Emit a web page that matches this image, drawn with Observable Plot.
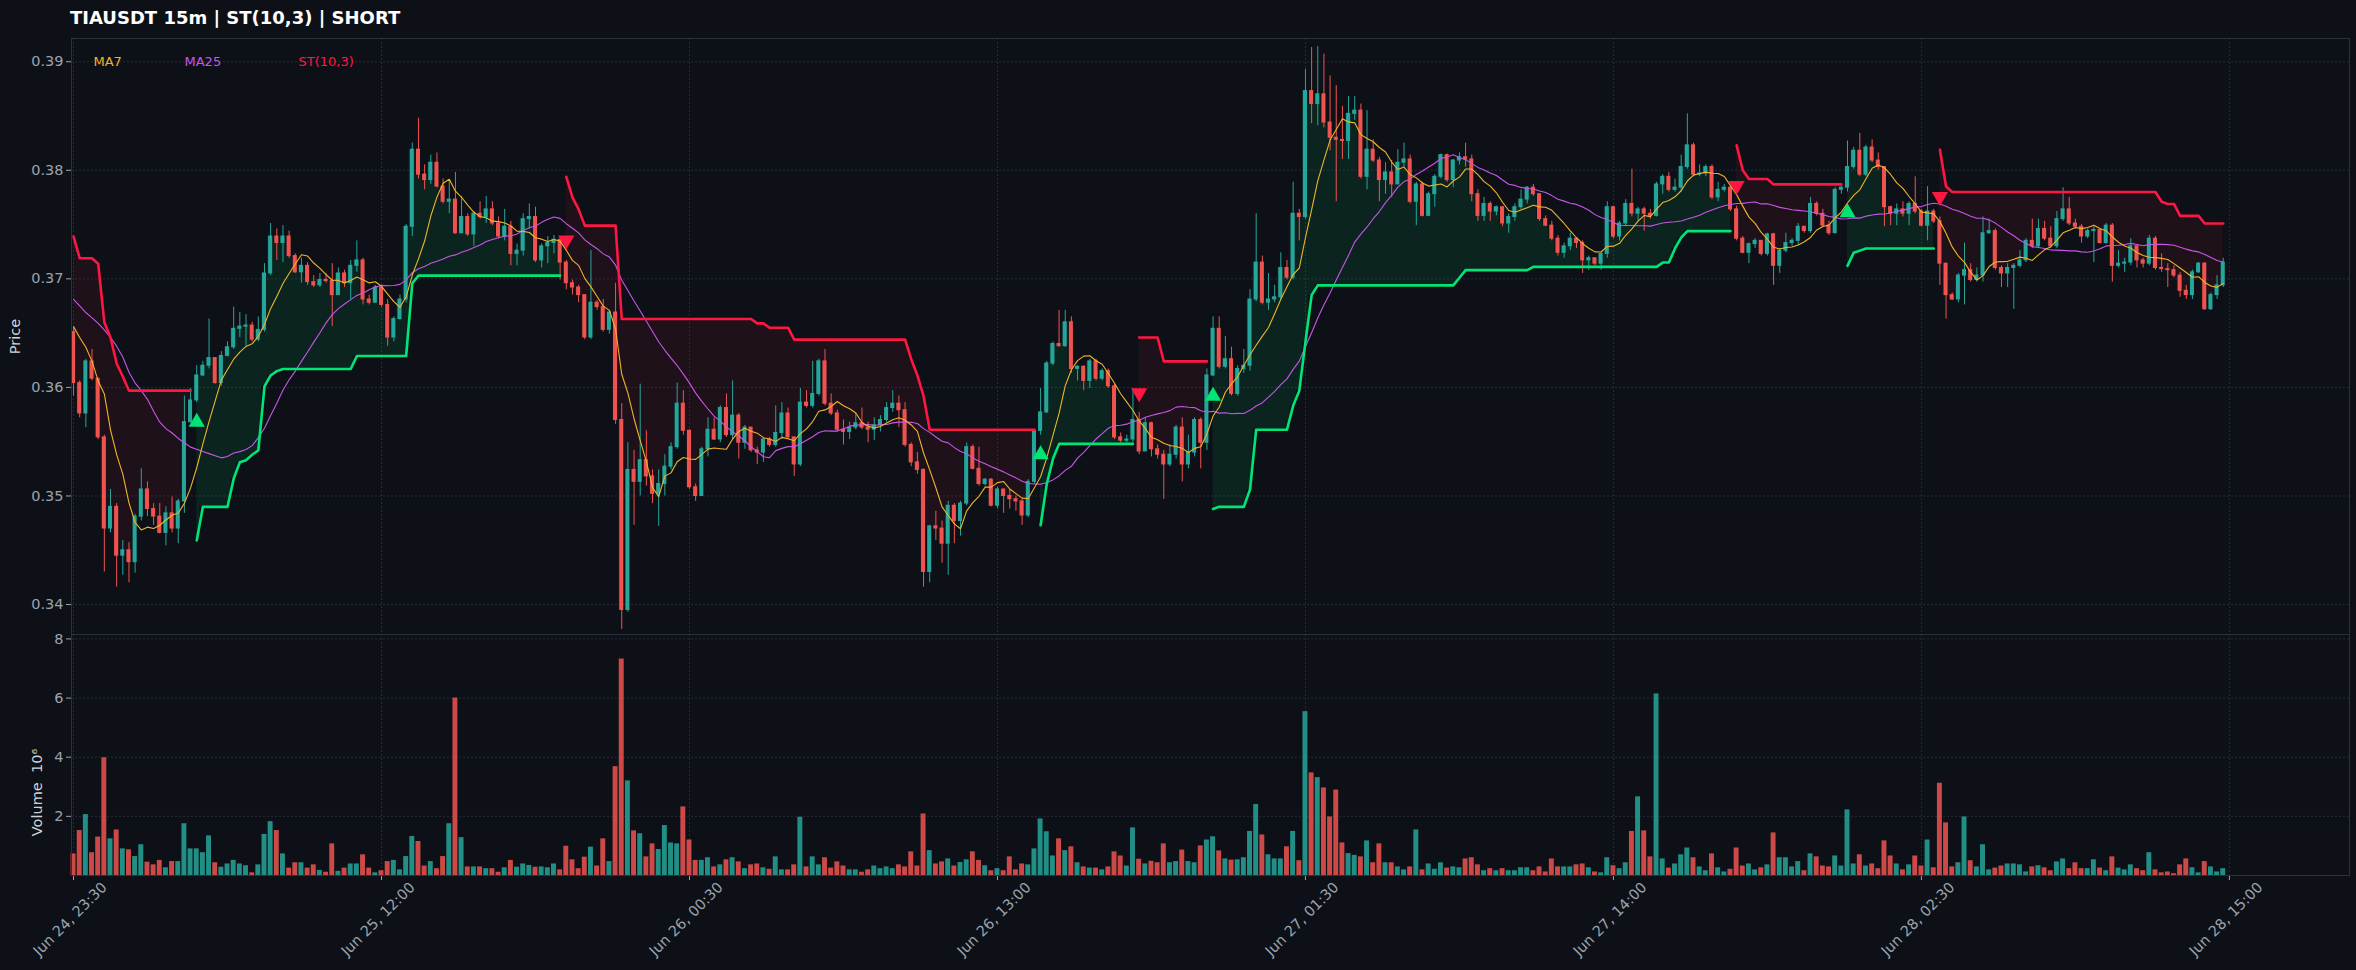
<!DOCTYPE html>
<html><head><meta charset="utf-8">
<script src="https://cdn.jsdelivr.net/npm/d3@7"></script>
<script src="https://cdn.jsdelivr.net/npm/@observablehq/plot@0.6"></script>
<style>
html,body{margin:0;padding:0;background:#0d1117;overflow:hidden;}
#wrap{width:2356px;height:970px;position:relative;font-family:"DejaVu Sans",sans-serif;background:#0d1117;}
#title{position:absolute;left:70px;top:6px;color:#ffffff;font-weight:bold;font-size:18px;line-height:24px;white-space:pre;}
#price{position:absolute;left:0;top:38px;}
#vol{position:absolute;left:0;top:634px;}
svg{display:block;}
</style></head>
<body>
<div id="wrap">
  <div id="title">TIAUSDT 15m | ST(10,3) | SHORT</div>
  <div id="price"></div>
  <div id="vol"></div>
</div>
<script>
// ---------------- data (15m candles, index 0 = Jun 24 23:30) ----------------
const open = [
0.3651,0.3604,0.3576,0.3624,0.3608,0.3554,0.3470,0.3490,0.3445,0.3450,
0.3439,0.3481,0.3506,0.3488,0.3481,0.3466,0.3484,0.3470,0.3495,0.3568,
0.3588,0.3611,0.3620,0.3627,0.3604,0.3629,0.3637,0.3654,0.3656,0.3657,
0.3644,0.3653,0.3705,0.3739,0.3733,0.3739,0.3721,0.3706,0.3712,0.3697,
0.3694,0.3699,0.3698,0.3685,0.3705,0.3696,0.3712,0.3717,0.3681,0.3678,
0.3692,0.3676,0.3646,0.3663,0.3681,0.3748,0.3819,0.3796,0.3791,0.3807,
0.3785,0.3771,0.3773,0.3742,0.3757,0.3741,0.3760,0.3757,0.3764,0.3751,
0.3739,0.3748,0.3723,0.3726,0.3755,0.3757,0.3717,0.3730,0.3733,0.3736,
0.3715,0.3696,0.3692,0.3685,0.3646,0.3678,0.3674,0.3653,0.3669,0.3570,
0.3395,0.3524,0.3513,0.3533,0.3518,0.3502,0.3511,0.3527,0.3545,0.3585,
0.3560,0.3508,0.3500,0.3543,0.3561,0.3552,0.3581,0.3556,0.3574,0.3549,
0.3563,0.3542,0.3540,0.3552,0.3547,0.3558,0.3576,0.3554,0.3529,0.3586,
0.3583,0.3594,0.3624,0.3585,0.3576,0.3561,0.3559,0.3563,0.3567,0.3563,
0.3561,0.3565,0.3570,0.3581,0.3585,0.3579,0.3547,0.3531,0.3524,0.3430,
0.3472,0.3470,0.3456,0.3491,0.3477,0.3493,0.3545,0.3525,0.3511,0.3515,
0.3491,0.3506,0.3500,0.3497,0.3495,0.3482,0.3513,0.3560,0.3577,0.3622,
0.3640,0.3638,0.3660,0.3617,0.3619,0.3606,0.3624,0.3608,0.3615,0.3601,
0.3554,0.3551,0.3552,0.3570,0.3541,0.3567,0.3543,0.3538,0.3529,0.3538,
0.3563,0.3529,0.3540,0.3570,0.3549,0.3611,0.3654,0.3619,0.3626,0.3594,
0.3617,0.3620,0.3681,0.3715,0.3678,0.3681,0.3683,0.3710,0.3701,0.3760,
0.3757,0.3873,0.3861,0.3870,0.3844,0.3830,0.3828,0.3827,0.3852,0.3855,
0.3794,0.3819,0.3809,0.3791,0.3798,0.3787,0.3807,0.3810,0.3771,0.3787,
0.3758,0.3778,0.3794,0.3814,0.3791,0.3809,0.3812,0.3810,0.3778,0.3758,
0.3769,0.3762,0.3766,0.3751,0.3757,0.3766,0.3773,0.3784,0.3778,0.3755,
0.3749,0.3737,0.3724,0.3730,0.3737,0.3733,0.3717,0.3719,0.3714,0.3723,
0.3766,0.3739,0.3751,0.3769,0.3760,0.3764,0.3760,0.3758,0.3787,0.3794,
0.3782,0.3784,0.3803,0.3823,0.3796,0.3797,0.3803,0.3775,0.3782,0.3784,
0.3764,0.3737,0.3724,0.3732,0.3735,0.3723,0.3741,0.3712,0.3726,0.3733,
0.3735,0.3748,0.3744,0.3769,0.3760,0.3749,0.3742,0.3782,0.3784,0.3803,
0.3818,0.3796,0.3821,0.3809,0.3803,0.3766,0.3760,0.3764,0.3760,0.3769,
0.3762,0.3749,0.3762,0.3753,0.3714,0.3685,0.3681,0.3703,0.3708,0.3699,
0.3703,0.3742,0.3744,0.3710,0.3705,0.3710,0.3712,0.3717,0.3735,0.3730,
0.3746,0.3737,0.3730,0.3755,0.3764,0.3751,0.3748,0.3739,0.3744,0.3745,
0.3733,0.3749,0.3712,0.3714,0.3715,0.3730,0.3717,0.3714,0.3737,0.3710,
0.3709,0.3708,0.3703,0.3689,0.3685,0.3706,0.3714,0.3672,0.3685,0.3694];

const high = [
0.3655,0.3606,0.3626,0.3635,0.3608,0.3556,0.3506,0.3493,0.3459,0.3457,
0.3483,0.3525,0.3513,0.3493,0.3493,0.3490,0.3499,0.3497,0.3592,0.3599,
0.3620,0.3624,0.3663,0.3626,0.3633,0.3642,0.3674,0.3669,0.3667,0.3660,
0.3665,0.3714,0.3751,0.3746,0.3749,0.3744,0.3723,0.3719,0.3715,0.3703,
0.3705,0.3705,0.3714,0.3710,0.3708,0.3717,0.3735,0.3719,0.3685,0.3694,
0.3694,0.3681,0.3665,0.3685,0.3750,0.3825,0.3848,0.3805,0.3814,0.3816,
0.3792,0.3791,0.3798,0.3776,0.3760,0.3762,0.3771,0.3776,0.3771,0.3757,
0.3764,0.3753,0.3732,0.3760,0.3769,0.3766,0.3732,0.3739,0.3740,0.3738,
0.3717,0.3699,0.3694,0.3685,0.3726,0.3680,0.3681,0.3671,0.3696,0.3585,
0.3549,0.3542,0.3603,0.3560,0.3524,0.3524,0.3538,0.3549,0.3604,0.3597,
0.3561,0.3511,0.3545,0.3572,0.3572,0.3583,0.3594,0.3606,0.3576,0.3565,
0.3563,0.3545,0.3554,0.3554,0.3583,0.3586,0.3581,0.3554,0.3599,0.3597,
0.3624,0.3626,0.3635,0.3594,0.3579,0.3570,0.3568,0.3576,0.3581,0.3568,
0.3572,0.3574,0.3586,0.3597,0.3592,0.3586,0.3549,0.3540,0.3525,0.3473,
0.3486,0.3477,0.3495,0.3493,0.3495,0.3549,0.3547,0.3545,0.3516,0.3516,
0.3508,0.3506,0.3506,0.3500,0.3497,0.3515,0.3561,0.3599,0.3624,0.3642,
0.3671,0.3671,0.3665,0.3620,0.3620,0.3626,0.3626,0.3617,0.3617,0.3603,
0.3558,0.3556,0.3599,0.3577,0.3572,0.3568,0.3547,0.3542,0.3547,0.3565,
0.3572,0.3556,0.3572,0.3572,0.3617,0.3665,0.3665,0.3647,0.3637,0.3620,
0.3635,0.3690,0.3760,0.3721,0.3705,0.3694,0.3724,0.3717,0.3789,0.3764,
0.3893,0.3913,0.3914,0.3907,0.3887,0.3878,0.3859,0.3868,0.3868,0.3861,
0.3855,0.3828,0.3812,0.3807,0.3809,0.3819,0.3825,0.3814,0.3789,0.3789,
0.3780,0.3796,0.3815,0.3815,0.3810,0.3816,0.3825,0.3814,0.3782,0.3775,
0.3771,0.3767,0.3764,0.3760,0.3769,0.3782,0.3785,0.3787,0.3778,0.3758,
0.3753,0.3740,0.3733,0.3742,0.3737,0.3735,0.3721,0.3719,0.3724,0.3771,
0.3767,0.3753,0.3773,0.3801,0.3766,0.3766,0.3764,0.3789,0.3796,0.3798,
0.3792,0.3814,0.3852,0.3825,0.3805,0.3805,0.3805,0.3789,0.3787,0.3785,
0.3767,0.3739,0.3733,0.3737,0.3735,0.3742,0.3742,0.3728,0.3742,0.3737,
0.3751,0.3748,0.3775,0.3771,0.3764,0.3753,0.3784,0.3785,0.3827,0.3821,
0.3834,0.3823,0.3828,0.3816,0.3803,0.3767,0.3769,0.3771,0.3771,0.3794,
0.3764,0.3785,0.3764,0.3757,0.3710,0.3687,0.3705,0.3733,0.3714,0.3710,
0.3757,0.3755,0.3746,0.3712,0.3714,0.3714,0.3726,0.3737,0.3755,0.3755,
0.3753,0.3748,0.3762,0.3784,0.3775,0.3755,0.3750,0.3746,0.3748,0.3744,
0.3751,0.3751,0.3726,0.3719,0.3737,0.3730,0.3719,0.3740,0.3739,0.3723,
0.3714,0.3712,0.3706,0.3694,0.3708,0.3715,0.3715,0.3687,0.3703,0.3719];

const low = [
0.3592,0.3572,0.3563,0.3606,0.3552,0.3430,0.3466,0.3416,0.3427,0.3420,
0.3429,0.3477,0.3481,0.3473,0.3465,0.3454,0.3466,0.3456,0.3484,0.3567,
0.3586,0.3610,0.3617,0.3603,0.3601,0.3628,0.3635,0.3646,0.3638,0.3642,
0.3642,0.3651,0.3703,0.3717,0.3715,0.3719,0.3705,0.3696,0.3694,0.3692,
0.3692,0.3696,0.3656,0.3685,0.3692,0.3681,0.3706,0.3676,0.3676,0.3678,
0.3674,0.3638,0.3642,0.3662,0.3678,0.3739,0.3792,0.3782,0.3787,0.3784,
0.3769,0.3760,0.3741,0.3744,0.3739,0.3730,0.3755,0.3751,0.3749,0.3737,
0.3735,0.3712,0.3712,0.3721,0.3746,0.3715,0.3710,0.3714,0.3723,0.3699,
0.3690,0.3685,0.3678,0.3644,0.3644,0.3671,0.3651,0.3649,0.3566,0.3377,
0.3393,0.3473,0.3500,0.3509,0.3493,0.3472,0.3500,0.3524,0.3543,0.3556,
0.3506,0.3495,0.3500,0.3536,0.3551,0.3549,0.3554,0.3552,0.3534,0.3543,
0.3540,0.3529,0.3531,0.3545,0.3545,0.3552,0.3552,0.3518,0.3527,0.3581,
0.3581,0.3592,0.3583,0.3574,0.3559,0.3547,0.3552,0.3561,0.3561,0.3549,
0.3551,0.3559,0.3568,0.3577,0.3563,0.3545,0.3527,0.3520,0.3416,0.3420,
0.3459,0.3438,0.3427,0.3456,0.3463,0.3491,0.3524,0.3509,0.3509,0.3490,
0.3488,0.3484,0.3488,0.3486,0.3473,0.3480,0.3511,0.3556,0.3576,0.3620,
0.3637,0.3637,0.3613,0.3606,0.3597,0.3599,0.3606,0.3606,0.3599,0.3552,
0.3549,0.3549,0.3549,0.3538,0.3541,0.3536,0.3534,0.3497,0.3527,0.3534,
0.3513,0.3525,0.3536,0.3525,0.3542,0.3610,0.3617,0.3617,0.3592,0.3592,
0.3613,0.3615,0.3679,0.3676,0.3671,0.3678,0.3681,0.3699,0.3699,0.3735,
0.3755,0.3843,0.3841,0.3839,0.3818,0.3771,0.3810,0.3810,0.3846,0.3792,
0.3782,0.3807,0.3771,0.3778,0.3775,0.3787,0.3803,0.3769,0.3749,0.3757,
0.3758,0.3766,0.3792,0.3789,0.3784,0.3805,0.3803,0.3771,0.3753,0.3753,
0.3753,0.3758,0.3748,0.3742,0.3753,0.3764,0.3769,0.3776,0.3753,0.3748,
0.3735,0.3721,0.3719,0.3726,0.3728,0.3705,0.3708,0.3712,0.3708,0.3719,
0.3737,0.3735,0.3748,0.3757,0.3753,0.3744,0.3755,0.3757,0.3778,0.3780,
0.3780,0.3780,0.3801,0.3794,0.3794,0.3794,0.3773,0.3771,0.3780,0.3762,
0.3735,0.3723,0.3714,0.3728,0.3721,0.3721,0.3694,0.3705,0.3724,0.3730,
0.3731,0.3742,0.3742,0.3758,0.3748,0.3740,0.3742,0.3778,0.3780,0.3801,
0.3794,0.3794,0.3807,0.3800,0.3748,0.3749,0.3749,0.3757,0.3749,0.3760,
0.3748,0.3735,0.3751,0.3694,0.3663,0.3680,0.3678,0.3676,0.3697,0.3697,
0.3697,0.3741,0.3708,0.3692,0.3692,0.3672,0.3710,0.3715,0.3728,0.3728,
0.3735,0.3728,0.3728,0.3753,0.3749,0.3746,0.3733,0.3737,0.3715,0.3732,
0.3732,0.3697,0.3710,0.3706,0.3712,0.3710,0.3710,0.3712,0.3708,0.3706,
0.3692,0.3701,0.3683,0.3681,0.3681,0.3705,0.3671,0.3671,0.3681,0.3692];

const close = [
0.3604,0.3576,0.3624,0.3608,0.3554,0.3470,0.3490,0.3445,0.3450,0.3439,
0.3481,0.3506,0.3488,0.3481,0.3466,0.3484,0.3470,0.3495,0.3568,0.3588,
0.3611,0.3620,0.3627,0.3604,0.3629,0.3637,0.3654,0.3656,0.3657,0.3644,
0.3653,0.3705,0.3739,0.3733,0.3739,0.3721,0.3706,0.3712,0.3697,0.3694,
0.3699,0.3698,0.3685,0.3705,0.3696,0.3712,0.3717,0.3681,0.3678,0.3692,
0.3676,0.3646,0.3663,0.3681,0.3748,0.3819,0.3796,0.3791,0.3807,0.3785,
0.3771,0.3773,0.3742,0.3757,0.3741,0.3760,0.3757,0.3764,0.3751,0.3739,
0.3748,0.3723,0.3726,0.3755,0.3757,0.3717,0.3730,0.3733,0.3736,0.3715,
0.3696,0.3692,0.3685,0.3646,0.3678,0.3674,0.3653,0.3669,0.3570,0.3395,
0.3524,0.3513,0.3533,0.3518,0.3502,0.3511,0.3527,0.3545,0.3585,0.3560,
0.3508,0.3500,0.3543,0.3561,0.3552,0.3581,0.3556,0.3574,0.3549,0.3563,
0.3542,0.3540,0.3552,0.3547,0.3558,0.3576,0.3554,0.3529,0.3586,0.3583,
0.3594,0.3624,0.3585,0.3576,0.3561,0.3559,0.3563,0.3567,0.3563,0.3561,
0.3565,0.3570,0.3581,0.3585,0.3579,0.3547,0.3531,0.3524,0.3430,0.3472,
0.3470,0.3456,0.3491,0.3477,0.3493,0.3545,0.3525,0.3511,0.3515,0.3491,
0.3506,0.3500,0.3497,0.3495,0.3482,0.3513,0.3560,0.3577,0.3622,0.3640,
0.3638,0.3660,0.3617,0.3619,0.3606,0.3624,0.3608,0.3615,0.3601,0.3554,
0.3551,0.3552,0.3570,0.3541,0.3567,0.3543,0.3538,0.3529,0.3538,0.3563,
0.3529,0.3540,0.3570,0.3549,0.3611,0.3654,0.3619,0.3626,0.3594,0.3617,
0.3620,0.3681,0.3715,0.3678,0.3681,0.3683,0.3710,0.3701,0.3760,0.3757,
0.3873,0.3861,0.3870,0.3844,0.3830,0.3828,0.3827,0.3852,0.3855,0.3794,
0.3819,0.3809,0.3791,0.3798,0.3787,0.3807,0.3810,0.3771,0.3787,0.3758,
0.3778,0.3794,0.3814,0.3791,0.3809,0.3812,0.3810,0.3778,0.3758,0.3769,
0.3762,0.3766,0.3751,0.3757,0.3766,0.3773,0.3784,0.3778,0.3755,0.3749,
0.3737,0.3724,0.3730,0.3737,0.3733,0.3717,0.3719,0.3714,0.3723,0.3766,
0.3739,0.3751,0.3769,0.3760,0.3764,0.3760,0.3758,0.3787,0.3794,0.3782,
0.3784,0.3803,0.3823,0.3796,0.3797,0.3803,0.3775,0.3782,0.3784,0.3764,
0.3737,0.3724,0.3732,0.3735,0.3723,0.3741,0.3712,0.3726,0.3733,0.3735,
0.3748,0.3744,0.3769,0.3760,0.3749,0.3742,0.3782,0.3784,0.3803,0.3818,
0.3796,0.3821,0.3809,0.3803,0.3766,0.3760,0.3764,0.3760,0.3769,0.3762,
0.3749,0.3762,0.3753,0.3714,0.3685,0.3681,0.3703,0.3708,0.3699,0.3703,
0.3742,0.3744,0.3710,0.3705,0.3710,0.3712,0.3717,0.3735,0.3730,0.3746,
0.3737,0.3730,0.3755,0.3764,0.3751,0.3748,0.3739,0.3744,0.3745,0.3733,
0.3749,0.3712,0.3714,0.3715,0.3730,0.3717,0.3714,0.3737,0.3710,0.3709,
0.3708,0.3703,0.3689,0.3685,0.3706,0.3714,0.3672,0.3685,0.3694,0.3715];

// volume in millions
const volume = [
0.73,1.52,2.06,0.77,1.30,3.98,1.24,1.54,0.90,0.87,
0.64,1.04,0.45,0.36,0.51,0.26,0.47,0.47,1.75,0.90,
0.90,0.77,1.34,0.43,0.28,0.39,0.51,0.39,0.33,0.09,
0.36,1.39,1.82,1.52,0.73,0.25,0.43,0.43,0.25,0.36,
0.17,0.11,1.07,0.14,0.25,0.39,0.39,0.70,0.25,0.09,
0.16,0.47,0.51,0.19,0.64,1.32,1.15,0.32,0.47,0.23,
0.64,1.75,6.00,1.28,0.29,0.29,0.29,0.23,0.23,0.11,
0.26,0.51,0.28,0.39,0.34,0.28,0.29,0.26,0.39,0.19,
0.99,0.53,0.23,0.62,0.96,0.32,1.24,0.47,3.68,7.32,
3.20,1.51,1.41,0.63,1.07,0.88,1.69,1.10,1.07,2.32,
1.20,0.51,0.51,0.60,0.29,0.36,0.53,0.60,0.46,0.23,
0.36,0.39,0.26,0.21,0.63,0.19,0.19,0.36,1.97,0.29,
0.63,0.36,0.60,0.25,0.46,0.32,0.19,0.19,0.11,0.19,
0.32,0.23,0.29,0.23,0.36,0.29,0.80,0.32,2.08,0.84,
0.39,0.46,0.56,0.32,0.44,0.53,0.80,0.51,0.33,0.16,
0.23,0.16,0.63,0.19,0.39,0.36,0.90,1.91,1.48,0.66,
1.24,0.84,0.97,0.43,0.29,0.25,0.25,0.19,0.29,0.80,
0.66,0.32,1.61,0.55,0.39,0.48,0.43,1.07,0.43,0.47,
0.86,0.47,0.43,1.00,1.20,1.31,0.83,0.56,0.52,0.53,
0.60,1.49,2.40,1.37,0.70,0.56,0.56,0.97,1.49,0.50,
5.54,3.47,3.31,2.96,1.98,2.89,1.10,0.74,0.68,0.63,
1.17,0.43,1.07,0.43,0.43,0.29,0.19,0.29,1.54,0.19,
0.39,0.21,0.43,0.25,0.29,0.26,0.56,0.60,0.36,0.16,
0.23,0.16,0.23,0.16,0.16,0.26,0.26,0.16,0.29,0.12,
0.56,0.29,0.29,0.29,0.36,0.39,0.26,0.12,0.09,0.60,
0.33,0.23,0.43,1.49,2.66,1.51,0.63,6.14,0.56,0.25,
0.39,0.70,0.93,0.60,0.29,0.16,0.73,0.26,0.12,0.21,
0.93,0.32,0.39,0.19,0.26,0.36,1.44,0.60,0.60,0.29,
0.47,0.16,0.73,0.63,0.32,0.29,0.66,0.32,2.22,0.39,
0.70,0.32,0.39,0.23,1.17,0.66,0.39,0.19,0.36,0.66,
0.32,1.20,0.26,3.12,1.78,0.29,0.43,1.98,0.50,0.29,
1.04,0.19,0.25,0.32,0.39,0.39,0.36,0.12,0.29,0.33,
0.26,0.16,0.46,0.56,0.23,0.43,0.23,0.23,0.53,0.25,
0.16,0.63,0.25,0.19,0.36,0.23,0.16,0.77,0.19,0.09,
0.12,0.06,0.36,0.56,0.26,0.09,0.47,0.29,0.12,0.23];

// SuperTrend(10,3) level per candle
const stLevel = [
0.3739,0.3719,0.3719,0.3719,0.3714,0.3660,0.3646,0.3622,0.3610,0.3597,
0.3597,0.3597,0.3597,0.3597,0.3597,0.3597,0.3597,0.3597,0.3597,0.3597,
0.3459,0.3490,0.3490,0.3490,0.3490,0.3490,0.3516,0.3531,0.3533,0.3538,
0.3542,0.3601,0.3611,0.3615,0.3617,0.3617,0.3617,0.3617,0.3617,0.3617,
0.3617,0.3617,0.3617,0.3617,0.3617,0.3617,0.3629,0.3629,0.3629,0.3629,
0.3629,0.3629,0.3629,0.3629,0.3629,0.3696,0.3703,0.3703,0.3703,0.3703,
0.3703,0.3703,0.3703,0.3703,0.3703,0.3703,0.3703,0.3703,0.3703,0.3703,
0.3703,0.3703,0.3703,0.3703,0.3703,0.3703,0.3703,0.3703,0.3703,0.3703,
0.3794,0.3775,0.3764,0.3749,0.3749,0.3749,0.3749,0.3749,0.3749,0.3663,
0.3663,0.3663,0.3663,0.3663,0.3663,0.3663,0.3663,0.3663,0.3663,0.3663,
0.3663,0.3663,0.3663,0.3663,0.3663,0.3663,0.3663,0.3663,0.3663,0.3663,
0.3663,0.3659,0.3659,0.3655,0.3655,0.3655,0.3655,0.3644,0.3644,0.3644,
0.3644,0.3644,0.3644,0.3644,0.3644,0.3644,0.3644,0.3644,0.3644,0.3644,
0.3644,0.3644,0.3644,0.3644,0.3644,0.3644,0.3626,0.3611,0.3592,0.3561,
0.3561,0.3561,0.3561,0.3561,0.3561,0.3561,0.3561,0.3561,0.3561,0.3561,
0.3561,0.3561,0.3561,0.3561,0.3561,0.3561,0.3561,0.3473,0.3511,0.3534,
0.3548,0.3548,0.3548,0.3548,0.3548,0.3548,0.3548,0.3548,0.3548,0.3548,
0.3548,0.3548,0.3548,0.3646,0.3646,0.3646,0.3646,0.3624,0.3624,0.3624,
0.3624,0.3624,0.3624,0.3624,0.3624,0.3488,0.3490,0.3490,0.3490,0.3490,
0.3490,0.3506,0.3561,0.3561,0.3561,0.3561,0.3561,0.3561,0.3583,0.3597,
0.3642,0.3685,0.3694,0.3694,0.3694,0.3694,0.3694,0.3694,0.3694,0.3694,
0.3694,0.3694,0.3694,0.3694,0.3694,0.3694,0.3694,0.3694,0.3694,0.3694,
0.3694,0.3694,0.3694,0.3694,0.3694,0.3701,0.3708,0.3708,0.3708,0.3708,
0.3708,0.3708,0.3708,0.3708,0.3708,0.3708,0.3708,0.3711,0.3711,0.3711,
0.3711,0.3711,0.3711,0.3711,0.3711,0.3711,0.3711,0.3711,0.3711,0.3711,
0.3711,0.3711,0.3711,0.3711,0.3711,0.3711,0.3711,0.3711,0.3715,0.3715,
0.3728,0.3738,0.3744,0.3744,0.3744,0.3744,0.3744,0.3744,0.3744,0.3744,
0.3823,0.3800,0.3792,0.3792,0.3792,0.3792,0.3787,0.3787,0.3787,0.3787,
0.3787,0.3787,0.3787,0.3787,0.3787,0.3787,0.3787,0.3787,0.3712,0.3724,
0.3726,0.3728,0.3728,0.3728,0.3728,0.3728,0.3728,0.3728,0.3728,0.3728,
0.3728,0.3728,0.3728,0.3819,0.3785,0.3780,0.3780,0.3780,0.3780,0.3780,
0.3780,0.3780,0.3780,0.3780,0.3780,0.3780,0.3780,0.3780,0.3780,0.3780,
0.3780,0.3780,0.3780,0.3780,0.3780,0.3780,0.3780,0.3780,0.3780,0.3780,
0.3780,0.3780,0.3780,0.3780,0.3780,0.3780,0.3780,0.3780,0.3780,0.3771,
0.3769,0.3769,0.3758,0.3758,0.3758,0.3758,0.3751,0.3751,0.3751,0.3751];

// SuperTrend direction per candle: 1 = up (green), -1 = down (red)
const stDir = [
-1,-1,-1,-1,-1,-1,-1,-1,-1,-1,  -1,-1,-1,-1,-1,-1,-1,-1,-1,-1,
 1, 1, 1, 1, 1, 1, 1, 1, 1, 1,   1, 1, 1, 1, 1, 1, 1, 1, 1, 1,
 1, 1, 1, 1, 1, 1, 1, 1, 1, 1,   1, 1, 1, 1, 1, 1, 1, 1, 1, 1,
 1, 1, 1, 1, 1, 1, 1, 1, 1, 1,   1, 1, 1, 1, 1, 1, 1, 1, 1, 1,
-1,-1,-1,-1,-1,-1,-1,-1,-1,-1,  -1,-1,-1,-1,-1,-1,-1,-1,-1,-1,
-1,-1,-1,-1,-1,-1,-1,-1,-1,-1,  -1,-1,-1,-1,-1,-1,-1,-1,-1,-1,
-1,-1,-1,-1,-1,-1,-1,-1,-1,-1,  -1,-1,-1,-1,-1,-1,-1,-1,-1,-1,
-1,-1,-1,-1,-1,-1,-1,-1,-1,-1,  -1,-1,-1,-1,-1,-1,-1, 1, 1, 1,
 1, 1, 1, 1, 1, 1, 1, 1, 1, 1,   1, 1, 1,-1,-1,-1,-1,-1,-1,-1,
-1,-1,-1,-1,-1, 1, 1, 1, 1, 1,   1, 1, 1, 1, 1, 1, 1, 1, 1, 1,
 1, 1, 1, 1, 1, 1, 1, 1, 1, 1,   1, 1, 1, 1, 1, 1, 1, 1, 1, 1,
 1, 1, 1, 1, 1, 1, 1, 1, 1, 1,   1, 1, 1, 1, 1, 1, 1, 1, 1, 1,
 1, 1, 1, 1, 1, 1, 1, 1, 1, 1,   1, 1, 1, 1, 1, 1, 1, 1, 1, 1,
 1, 1, 1, 1, 1, 1, 1, 1, 1, 1,  -1,-1,-1,-1,-1,-1,-1,-1,-1,-1,
-1,-1,-1,-1,-1,-1,-1,-1, 1, 1,   1, 1, 1, 1, 1, 1, 1, 1, 1, 1,
 1, 1, 1,-1,-1,-1,-1,-1,-1,-1,  -1,-1,-1,-1,-1,-1,-1,-1,-1,-1,
-1,-1,-1,-1,-1,-1,-1,-1,-1,-1,  -1,-1,-1,-1,-1,-1,-1,-1,-1,-1,
-1,-1,-1,-1,-1,-1,-1,-1,-1,-1];

// moving-average values at the start of the window (history before the first bar)
const ma7Head = [0.3656,0.3646,0.3637,0.3624,0.3606,0.3594];
const ma25Head = [0.3681,0.3675,0.3669,0.3664,0.3659,0.3653,0.3646,0.3638,0.3628,0.3614,
                  0.3604,0.3597,0.3589,0.3578,0.3568,0.3562,0.3558,0.3553,0.3549,0.3545,
                  0.3543,0.3541,0.3539,0.3537];

const xTickIdx = [0,50,100,150,200,250,300,350];
const xTickLabels = ["Jun 24, 23:30","Jun 25, 12:00","Jun 26, 00:30","Jun 26, 13:00","Jun 27, 01:30","Jun 27, 14:00","Jun 28, 02:30","Jun 28, 15:00"];
const priceTicks = [0.34,0.35,0.36,0.37,0.38,0.39];
const volTicks = [2,4,6,8];
const legendItems = ["MA7","MA25","ST(10,3)"];

// ---------------- derived series ----------------
const sma = (n, head) => close.map((_, i) => i < head.length ? head[i] : d3.mean(close.slice(i - n + 1, i + 1)));
const ma7 = sma(7, ma7Head), ma25 = sma(25, ma25Head);

const rows = close.map((c, i) => ({
  i, o: open[i], c,
  h: Math.max(high[i], open[i], c), l: Math.min(low[i], open[i], c),
  v: volume[i], up: c >= open[i], ma7: ma7[i], ma25: ma25[i], st: stLevel[i], dir: stDir[i]
}));
const upRows = rows.filter(d => d.up), dnRows = rows.filter(d => !d.up);
const buys = rows.filter((d, k) => k > 0 && d.dir === 1 && rows[k-1].dir === -1);
const sells = rows.filter((d, k) => k > 0 && d.dir === -1 && rows[k-1].dir === 1);
const xTickRows = xTickIdx.map((i, k) => ({i, label: xTickLabels[k]}));

// ---------------- styling ----------------
const W = 2356;
const xDomain = [-0.33, 369.5];
const UP = "#26a69a", DN = "#ef5350";
const STUP = "#00e676", STDN = "#ff1744";
const MA7C = "#f0b429", MA25C = "#c855e8";
const GRID = "#262c37", FRAME = "#2b303b", TXT = "#9da3ad";
const baseStyle = {background: "transparent", fontFamily: "DejaVu Sans", color: TXT, overflow: "visible"};

const price = Plot.plot({
  width: W, height: 596, marginTop: 0, marginBottom: 0, marginLeft: 71, marginRight: 7,
  style: baseStyle,
  x: {domain: xDomain, axis: null},
  y: {domain: [0.33724, 0.39214], axis: null},
  marks: [
    Plot.ruleY(priceTicks, {stroke: GRID, strokeDasharray: "2,2"}),
    Plot.ruleX(xTickIdx, {stroke: GRID, strokeDasharray: "2,2"}),
    Plot.areaY(rows, {x: "i", y1: d => d.dir === 1 ? d.c : NaN, y2: d => d.dir === 1 ? d.st : NaN,
      curve: "step", fill: STUP, fillOpacity: 0.09}),
    Plot.areaY(rows, {x: "i", y1: d => d.dir === -1 ? d.c : NaN, y2: d => d.dir === -1 ? d.st : NaN,
      curve: "step", fill: STDN, fillOpacity: 0.08}),
    Plot.ruleX(upRows, {x: "i", y1: "l", y2: "h", stroke: UP, strokeWidth: 1}),
    Plot.ruleX(dnRows, {x: "i", y1: "l", y2: "h", stroke: DN, strokeWidth: 1}),
    Plot.rect(upRows, {x1: d => d.i - 0.33, x2: d => d.i + 0.33, y1: "o", y2: "c", fill: UP, insetTop: -0.5, insetBottom: -0.5}),
    Plot.rect(dnRows, {x1: d => d.i - 0.33, x2: d => d.i + 0.33, y1: "c", y2: "o", fill: DN, insetTop: -0.5, insetBottom: -0.5}),
    Plot.lineY(rows, {x: "i", y: "ma25", stroke: MA25C, strokeWidth: 1.1}),
    Plot.lineY(rows, {x: "i", y: "ma7", stroke: MA7C, strokeWidth: 1.1}),
    Plot.lineY(rows, {x: "i", y: d => d.dir === 1 ? d.st : NaN, stroke: STUP, strokeWidth: 2.6}),
    Plot.lineY(rows, {x: "i", y: d => d.dir === -1 ? d.st : NaN, stroke: STDN, strokeWidth: 2.6}),
    Plot.dot(buys, {x: "i", y: d => d.l * 0.995, symbol: "triangle", r: 6, fill: STUP, stroke: "none"}),
    Plot.dot(sells, {x: "i", y: d => d.h * 1.005, symbol: "triangle", rotate: 180, r: 6, fill: STDN, stroke: "none"}),
    Plot.text([legendItems[0]], {text: d => d, frameAnchor: "top-left", dx: 22, dy: 23.5, fill: MA7C, fontSize: 13, textAnchor: "start", lineAnchor: "middle"}),
    Plot.text([legendItems[1]], {text: d => d, frameAnchor: "top-left", dx: 113, dy: 23.5, fill: MA25C, fontSize: 13, textAnchor: "start", lineAnchor: "middle"}),
    Plot.text([legendItems[2]], {text: d => d, frameAnchor: "top-left", dx: 227, dy: 23.5, fill: STDN, fontSize: 13, textAnchor: "start", lineAnchor: "middle"}),
    Plot.axisY({ticks: priceTicks, tickFormat: d3.format(".2f"), tickSize: 5, tickPadding: 3, fontSize: 14.5, label: null, color: TXT}),
    Plot.text(["Price"], {text: d => d, frameAnchor: "left", dx: -56, rotate: -90, textAnchor: "middle", lineAnchor: "middle", fill: "#d0d4da", fontSize: 14.5}),
    Plot.frame({stroke: FRAME})
  ]
});

const vol = Plot.plot({
  width: W, height: 336, marginTop: 0, marginBottom: 95, marginLeft: 71, marginRight: 7,
  style: baseStyle,
  x: {domain: xDomain, axis: null},
  y: {domain: [0, 8.15], axis: null},
  marks: [
    Plot.ruleY(volTicks, {stroke: GRID, strokeDasharray: "2,2"}),
    Plot.ruleX(xTickIdx, {stroke: GRID, strokeDasharray: "2,2"}),
    Plot.rect(upRows, {x1: d => d.i - 0.4, x2: d => d.i + 0.4, y1: 0, y2: "v", fill: UP, fillOpacity: 0.85}),
    Plot.rect(dnRows, {x1: d => d.i - 0.4, x2: d => d.i + 0.4, y1: 0, y2: "v", fill: DN, fillOpacity: 0.85}),
    Plot.axisY({ticks: volTicks, tickFormat: d3.format("d"), tickSize: 5, tickPadding: 3, fontSize: 14.5, label: null, color: TXT}),
    Plot.axisX({ticks: xTickIdx, tickFormat: () => "", tickSize: 5, label: null, color: TXT}),
    Plot.text(xTickRows, {x: "i", text: "label", frameAnchor: "bottom", dy: 47, rotate: -45, textAnchor: "middle", fill: TXT, fontSize: 14.5}),
    Plot.text(["Volume  10\u2076"], {text: d => d, frameAnchor: "top-left", dx: -34, dy: 158, rotate: -90, textAnchor: "middle", lineAnchor: "middle", fill: "#d0d4da", fontSize: 14.5}),
    Plot.frame({stroke: FRAME})
  ]
});

document.getElementById("price").appendChild(price);
document.getElementById("vol").appendChild(vol);
</script>
</body></html>
